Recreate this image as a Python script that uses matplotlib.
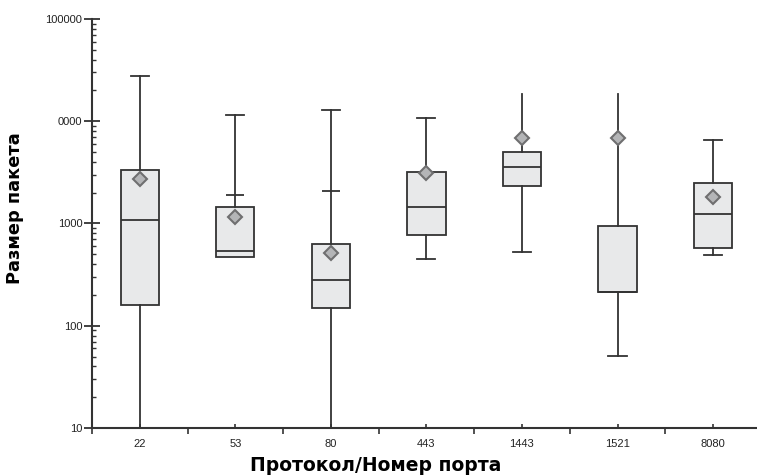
import matplotlib
matplotlib.use('Agg')
import matplotlib.pyplot as plt
from matplotlib.ticker import FixedLocator, NullFormatter

# Номера портов и статистика размеров пакетов
ports = ['22', '53', '80', '443', '1443', '1521', '8080']
whis_hi = [27600, 11500, 12850, 10700, 18400, 18400, 6530]
inner_cap = [None, 1900, 2070, None, None, None, None]
q3 = [3330, 1450, 630, 3180, 4990, 940, 2480]
med = [1080, 537, 280, 1450, 3560, 213, 1236]
q1 = [159, 470, 149, 770, 2320, 213, 575]
whis_lo = [5, 470, 5, 449, 525, 50.6, 491]
means = [2720, 1155, 514, 3100, 6840, 6840, 1811]
top_cap = [True, True, True, True, False, False, True]
low_cap = [False, False, False, True, True, True, True]

yticks = [10, 100, 1000, 10000, 100000]
ytick_labels = ['10', '100', '1000', '0000', '100000']

line_c = '#333333'

fig = plt.figure(figsize=(7.57, 4.75), dpi=100)
ax = fig.add_axes([92 / 757, 47 / 475, 665 / 757, 409 / 475])

stats = []
for i in range(len(ports)):
    stats.append({'med': med[i], 'q1': q1[i], 'q3': q3[i],
                  'whislo': whis_lo[i], 'whishi': whis_hi[i],
                  'mean': means[i], 'label': ports[i]})

pos = list(range(len(ports)))
res = ax.bxp(stats, positions=pos, widths=0.4, capwidths=0.19,
             showmeans=True, showfliers=False, patch_artist=True,
             boxprops=dict(facecolor='#e8e9ea', edgecolor=line_c, linewidth=1.3),
             medianprops=dict(color=line_c, linewidth=1.3),
             whiskerprops=dict(color=line_c, linewidth=1.3),
             capprops=dict(color=line_c, linewidth=1.3),
             meanprops=dict(marker='D', markersize=7.5, markerfacecolor='#b4b5b7',
                            markeredgecolor='#6f6f70', markeredgewidth=1.5))

for i in range(len(ports)):
    res['caps'][2 * i].set_visible(low_cap[i])
    res['caps'][2 * i + 1].set_visible(top_cap[i])
    if inner_cap[i] is not None:
        ax.hlines(inner_cap[i], i - 0.095, i + 0.095, color=line_c, linewidth=1.3, zorder=3)

ax.set_yscale('log')
ax.set_ylim(10, 100000)
ax.set_xlim(-0.47, 6.46)

ax.yaxis.set_major_locator(FixedLocator(yticks))
ax.set_yticklabels(ytick_labels, fontfamily='Liberation Sans')
ax.yaxis.set_minor_formatter(NullFormatter())
ax.tick_params(axis='y', which='major', direction='inout', length=11, width=1.3,
               color=line_c, labelsize=8, labelcolor='#222222', pad=1.5)
ax.tick_params(axis='y', which='minor', direction='in', length=3, width=1.0, color=line_c)

ax.set_xticks(pos)
ax.set_xticklabels(ports, fontfamily='Liberation Sans')
ax.set_xticks([p + 0.5 for p in pos[:-1]] + [-0.5 + 0.0001], minor=True)
ax.tick_params(axis='x', which='major', direction='in', length=3, width=1.2,
               color=line_c, labelsize=8, labelcolor='#222222', pad=8)
ax.tick_params(axis='x', which='minor', direction='out', length=4, width=1.2, color=line_c)

for s in ['top', 'right']:
    ax.spines[s].set_visible(False)
for s in ['left', 'bottom']:
    ax.spines[s].set_color(line_c)
    ax.spines[s].set_linewidth(1.5)

ax.set_xlabel('Протокол/Номер порта', fontsize=13.5, fontweight='bold')
ax.set_ylabel('Размер пакета', fontsize=12.8, fontweight='bold')
ax.xaxis.set_label_coords(0.427, -0.068)
ax.yaxis.set_label_coords(-0.102, 0.538)

fig.savefig('out.png', dpi=100)
